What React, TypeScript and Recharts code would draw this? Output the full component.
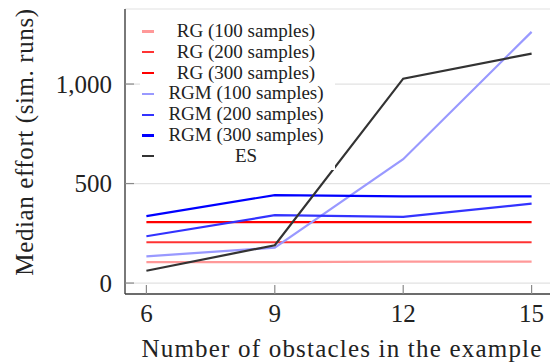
import { LineChart, Line, XAxis, YAxis, CartesianGrid, Legend } from 'recharts'

const obstacles = [6, 9, 12, 15]
const rg100 = [105, 105, 108, 108]
const rg200 = [205, 205, 205, 205]
const rg300 = [306, 306, 306, 306]
const rgm100 = [134, 178, 622, 1262]
const rgm200 = [235, 341, 333, 399]
const rgm300 = [336, 442, 436, 436]
const es = [62, 190, 1027, 1153]

const xTicks = [6, 9, 12, 15]
const yTicks = [0, 500, 1000]

const series = [
  { key: 'rg100', name: 'RG (100 samples)', color: '#ff9999', values: rg100 },
  { key: 'rg200', name: 'RG (200 samples)', color: '#ff3333', values: rg200 },
  { key: 'rg300', name: 'RG (300 samples)', color: '#ff0000', values: rg300 },
  { key: 'rgm100', name: 'RGM (100 samples)', color: '#9999ff', values: rgm100 },
  { key: 'rgm200', name: 'RGM (200 samples)', color: '#3333ff', values: rgm200 },
  { key: 'rgm300', name: 'RGM (300 samples)', color: '#0000ff', values: rgm300 },
  { key: 'es', name: 'ES', color: '#333333', values: es },
]

const data = obstacles.map((n, i) => {
  const row: Record<string, number> = { n }
  series.forEach((s) => (row[s.key] = s.values[i]))
  return row
})

const font = "'Liberation Serif', 'Times New Roman', Times, 'DejaVu Serif', serif"
const tickGray = '#8a8a8a'
const frame = '#404040'

const BottomTick = (props: any) => {
  const { x, y, payload } = props
  return (
    <g>
      <line x1={x} y1={y} x2={x} y2={y - 9} stroke={tickGray} strokeWidth={1.2} />
      <text x={x} y={y + 28} textAnchor="middle" fontSize={25} style={{ fontFamily: font }} fill="#222">
        {payload.value}
      </text>
    </g>
  )
}

const LeftTick = (props: any) => {
  const { x, y, payload } = props
  return (
    <g>
      <line x1={x} y1={y} x2={x + 9} y2={y} stroke={tickGray} strokeWidth={1.2} />
      <text x={x - 13} y={y + 8.5} textAnchor="end" fontSize={25} style={{ fontFamily: font }} fill="#222">
        {Number(payload.value).toLocaleString('en-US')}
      </text>
    </g>
  )
}

// legend drawn from the series list so the order stays as in the source
const renderLegend = () => (
  <div style={{ background: '#fff', padding: '0 0 3px 0', fontFamily: font, fontSize: 19, color: '#222' }}>
    {series.map((s) => (
      <div key={s.key} style={{ position: 'relative', height: 20.8 }}>
        <div
          style={{
            position: 'absolute',
            left: 2,
            top: 9.4,
            width: 12,
            height: 2.2,
            background: s.color,
          }}
        />
        <span
          style={{
            position: 'absolute',
            left: 16,
            width: 180,
            textAlign: 'center',
            lineHeight: '20.8px',
            whiteSpace: 'nowrap',
          }}
        >
          {s.name}
        </span>
      </div>
    ))}
  </div>
)

export default function App() {
  return (
    <div
      style={{
        position: 'absolute',
        left: 0,
        top: 0,
        width: 550,
        height: 364,
        overflow: 'hidden',
        background: '#fff',
        fontFamily: font,
      }}
    >
      <LineChart width={556} height={364} data={data} margin={{ top: 9, right: 3, bottom: 0, left: 0 }}>
        <CartesianGrid vertical={false} stroke="#e2e2e2" strokeWidth={1.2} />
        <XAxis
          dataKey="n"
          type="number"
          domain={[5.5, 15.5]}
          ticks={xTicks}
          height={70}
          tickSize={0}
          tickMargin={0}
          tickLine={false}
          tick={<BottomTick />}
          axisLine={{ stroke: frame, strokeWidth: 1.4 }}
          label={{
            content: () => (
              <text
                x={342}
                y={357}
                textAnchor="middle"
                fontSize={25}
                letterSpacing={1.2}
                style={{ fontFamily: font }}
                fill="#222"
              >
                Number of obstacles in the example
              </text>
            ),
          }}
        />
        <XAxis
          xAxisId="top"
          orientation="top"
          type="number"
          domain={[5.5, 15.5]}
          ticks={xTicks}
          height={0}
          mirror
          tick={false}
          tickSize={9}
          tickLine={{ stroke: tickGray, strokeWidth: 1.2 }}
          axisLine={{ stroke: frame, strokeWidth: 1.4 }}
          allowDataOverflow
        />
        <YAxis
          type="number"
          domain={[-55, 1377]}
          ticks={yTicks}
          width={125}
          tickSize={0}
          tickMargin={0}
          tickLine={false}
          tick={<LeftTick />}
          axisLine={{ stroke: frame, strokeWidth: 1.4 }}
          allowDataOverflow
          label={{
            content: () => (
              <text
                transform="translate(33,142) rotate(-90)"
                textAnchor="middle"
                fontSize={25}
                letterSpacing={0.6}
                style={{ fontFamily: font }}
                fill="#222"
              >
                Median effort (sim. runs)
              </text>
            ),
          }}
        />
        <YAxis
          yAxisId="right"
          orientation="right"
          type="number"
          domain={[-55, 1377]}
          ticks={yTicks}
          width={0}
          mirror
          tick={false}
          tickSize={9}
          tickLine={{ stroke: tickGray, strokeWidth: 1.2 }}
          axisLine={{ stroke: frame, strokeWidth: 1.4 }}
          allowDataOverflow
        />
        {series.map((s) => (
          <Line
            key={s.key}
            dataKey={s.key}
            name={s.name}
            stroke={s.color}
            strokeWidth={2.2}
            dot={false}
            type="linear"
            isAnimationActive={false}
          />
        ))}
        <Legend
          layout="horizontal"
          verticalAlign="middle"
          align="center"
          content={renderLegend}
          wrapperStyle={{ left: 140, top: 21, width: 195 }}
        />
      </LineChart>
    </div>
  )
}
